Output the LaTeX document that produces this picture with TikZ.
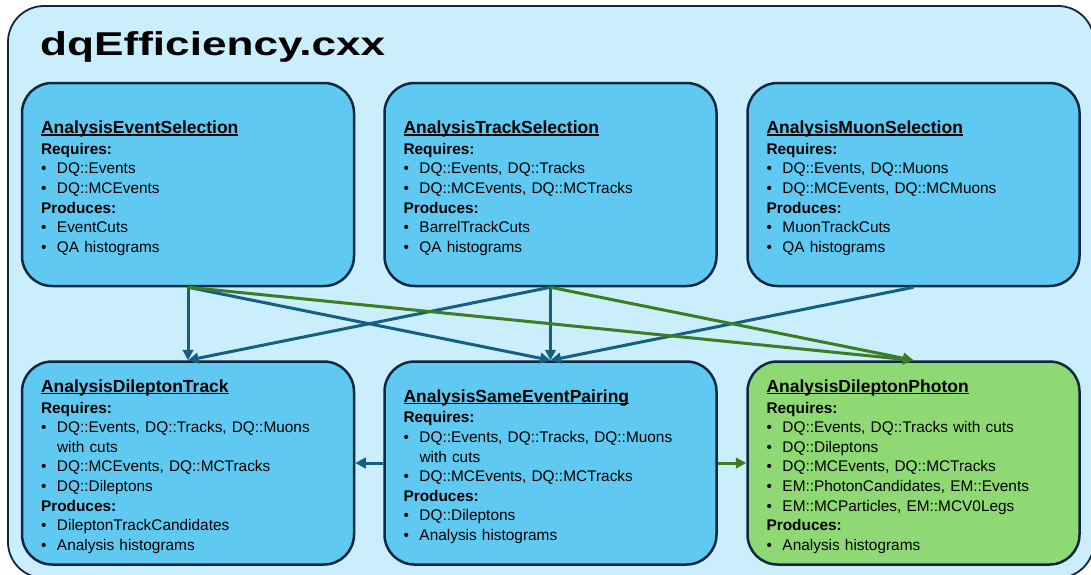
\documentclass[tikz,border=0pt]{standalone}
\usepackage{fontspec}
\setmainfont{Liberation Sans}
\usetikzlibrary{arrows.meta}

\definecolor{framefill}{HTML}{CAEEFB}
\definecolor{boxfill}{HTML}{5FC9F1}
\definecolor{greenfill}{HTML}{8ED973}
\definecolor{edgecol}{HTML}{0E2841}
\definecolor{flowblue}{HTML}{156082}
\definecolor{flowgreen}{HTML}{3B7D23}

% underlined bold task name (the strut adds some room above it)
\newcommand\taskname[1]{\setbox0\hbox{\fontsize{17.5}{21}\selectfont\bfseries #1}%
  \rule{0pt}{20pt}\rlap{\rule[-1.9pt]{\wd0}{1.3pt}}\box0}
\newcommand\sect[1]{\textbf{#1}}
\newcommand\itm{\makebox[16pt][l]{\textbullet}}
\newcommand\cont{\hspace*{16pt}}

\begin{document}
\begin{tikzpicture}[x=1pt,y=-1pt,
  framebox/.style={draw=edgecol, line width=1.8pt, fill=framefill, rounded corners=36pt},
  task/.style={draw=edgecol, line width=2.5pt, fill=boxfill, rounded corners=30pt,
    minimum width=332pt, minimum height=203pt, text width=294pt,
    inner xsep=19pt, inner ysep=0pt, align=left,
    font=\fontsize{15.4}{19.6}\selectfont},
  greentask/.style={task, fill=greenfill},
  flow/.style={draw=flowblue, line width=3pt, -{Triangle[length=10.5pt,width=10.5pt]}},
  flowg/.style={flow, draw=flowgreen}
]
\useasboundingbox (0,0) rectangle (1091,574);

% enclosing file frame
\draw[framebox] (8,6) rectangle (1094,578);
\node[anchor=base west, inner sep=0pt] (title) at (40,55)
  {\resizebox{345pt}{\height}{\fontsize{33}{36}\selectfont\bfseries dqEfficiency.cxx}};

% selection tasks
\node[task] (b1) at (188,184.5) {%
  \taskname{AnalysisEventSelection}\\[1pt]
  \sect{Requires:}\\
  \itm DQ::Events\\
  \itm DQ::MCEvents\\
  \sect{Produces:}\\
  \itm EventCuts\\
  \itm QA histograms};

\node[task] (b2) at (550.5,184.5) {%
  \taskname{AnalysisTrackSelection}\\[1pt]
  \sect{Requires:}\\
  \itm DQ::Events, DQ::Tracks\\
  \itm DQ::MCEvents, DQ::MCTracks\\
  \sect{Produces:}\\
  \itm BarrelTrackCuts\\
  \itm QA histograms};

\node[task] (b3) at (913.5,184.5) {%
  \taskname{AnalysisMuonSelection}\\[1pt]
  \sect{Requires:}\\
  \itm DQ::Events, DQ::Muons\\
  \itm DQ::MCEvents, DQ::MCMuons\\
  \sect{Produces:}\\
  \itm MuonTrackCuts\\
  \itm QA histograms};

% analysis tasks
\node[task] (b4) at (188,463) {%
  \taskname{AnalysisDileptonTrack}\\[1pt]
  \sect{Requires:}\\
  \itm DQ::Events, DQ::Tracks, DQ::Muons\\
  \cont with cuts\\
  \itm DQ::MCEvents, DQ::MCTracks\\
  \itm DQ::Dileptons\\
  \sect{Produces:}\\
  \itm DileptonTrackCandidates\\
  \itm Analysis histograms};

\node[task] (b5) at (550.5,463) {%
  \taskname{AnalysisSameEventPairing}\\[1pt]
  \sect{Requires:}\\
  \itm DQ::Events, DQ::Tracks, DQ::Muons\\
  \cont with cuts\\
  \itm DQ::MCEvents, DQ::MCTracks\\
  \sect{Produces:}\\
  \itm DQ::Dileptons\\
  \itm Analysis histograms};

\node[greentask] (b6) at (913.5,463) {%
  \taskname{AnalysisDileptonPhoton}\\[1pt]
  \sect{Requires:}\\
  \itm DQ::Events, DQ::Tracks with cuts\\
  \itm DQ::Dileptons\\
  \itm DQ::MCEvents, DQ::MCTracks\\
  \itm EM::PhotonCandidates, EM::Events\\
  \itm EM::MCParticles, EM::MCV0Legs\\
  \sect{Produces:}\\
  \itm Analysis histograms};

% data flow
\draw[flow] (b1.south) -- (b4.north);
\draw[flow] (b1.south) -- (b5.north);
\draw[flow] (b2.south) -- (b4.north);
\draw[flow] (b2.south) -- (b5.north);
\draw[flow] (b3.south) -- (b5.north);
\draw[flowg] (b1.south) -- (b6.north);
\draw[flowg] (b2.south) -- (b6.north);
\draw[flow] (b5.west) -- (b4.east);
\draw[flowg] (b5.east) -- (b6.west);
\end{tikzpicture}
\end{document}
